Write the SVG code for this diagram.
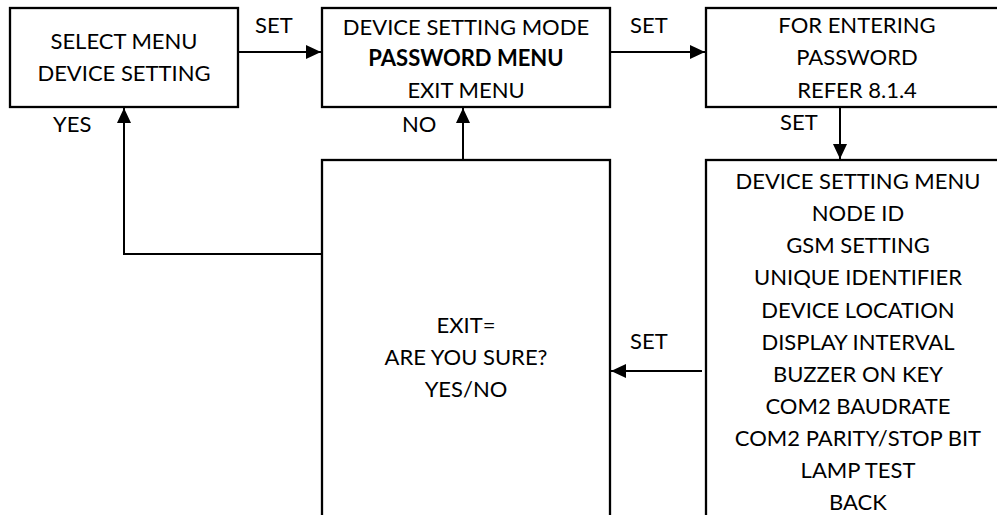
<svg xmlns="http://www.w3.org/2000/svg" width="997" height="515" viewBox="0 0 997 515">
<style>
text{font-family:Lato,"Open Sans","Liberation Sans",sans-serif;font-size:22px;fill:#000;text-anchor:middle}
.lbl{text-anchor:start}
.box{fill:#fff;stroke:#000;stroke-width:2.3}
.con{fill:none;stroke:#000;stroke-width:2}
</style>
<defs>
<marker id="ah" markerUnits="userSpaceOnUse" markerWidth="16" markerHeight="16" refX="15" refY="7" orient="auto">
<path d="M0,0 L15,7 L0,14 Z" fill="#000"/>
</marker>
</defs>
<rect width="997" height="515" fill="#fff"/>
<g id="connectors">
<line class="con" x1="238" y1="52" x2="321" y2="52" marker-end="url(#ah)"/>
<line class="con" x1="610" y1="52" x2="705" y2="52" marker-end="url(#ah)"/>
<line class="con" x1="840" y1="107" x2="840" y2="159" marker-end="url(#ah)"/>
<line class="con" x1="702" y1="371" x2="611" y2="371" marker-end="url(#ah)"/>
<line class="con" x1="463" y1="160" x2="463" y2="108" marker-end="url(#ah)"/>
<polyline class="con" points="322,254 124,254 124,108" marker-end="url(#ah)"/>
<text class="lbl" x="255" y="33">SET</text>
<text class="lbl" x="630" y="33">SET</text>
<text class="lbl" x="780" y="130">SET</text>
<text class="lbl" x="630" y="349">SET</text>
<text class="lbl" x="402" y="132">NO</text>
<text class="lbl" x="53" y="132">YES</text>
</g>
<g id="select-menu">
<rect class="box" x="10" y="8" width="228" height="99"/>
<text x="124" y="49">SELECT MENU</text>
<text x="124" y="81">DEVICE SETTING</text>
</g>
<g id="device-setting-mode">
<rect class="box" x="322" y="8" width="288" height="99"/>
<text x="466" y="35">DEVICE SETTING MODE</text>
<text x="466" y="66" font-weight="bold">PASSWORD MENU</text>
<text x="466" y="98">EXIT MENU</text>
</g>
<g id="password">
<rect class="box" x="706" y="8" width="304" height="99"/>
<text x="857" y="33">FOR ENTERING</text>
<text x="857" y="65">PASSWORD</text>
<text x="857" y="98">REFER 8.1.4</text>
</g>
<g id="device-setting-menu">
<rect class="box" x="706" y="160" width="304" height="370"/>
<text x="858" y="189">DEVICE SETTING MENU</text>
<text x="858" y="221">NODE ID</text>
<text x="858" y="253">GSM SETTING</text>
<text x="858" y="285">UNIQUE IDENTIFIER</text>
<text x="858" y="318">DEVICE LOCATION</text>
<text x="858" y="350">DISPLAY INTERVAL</text>
<text x="858" y="382">BUZZER ON KEY</text>
<text x="858" y="414">COM2 BAUDRATE</text>
<text x="858" y="446">COM2 PARITY/STOP BIT</text>
<text x="858" y="478">LAMP TEST</text>
<text x="858" y="510">BACK</text>
</g>
<g id="exit-confirm">
<rect class="box" x="322" y="160" width="288" height="370"/>
<text x="466" y="333">EXIT=</text>
<text x="466" y="365">ARE YOU SURE?</text>
<text x="466" y="397">YES/NO</text>
</g>
</svg>
